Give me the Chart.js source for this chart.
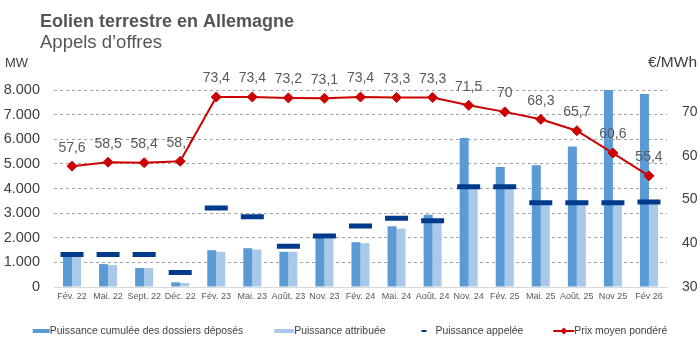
<!DOCTYPE html>
<html lang="fr">
<head>
<meta charset="utf-8">
<title>Eolien terrestre en Allemagne – Appels d’offres</title>
<script src="https://cdn.jsdelivr.net/npm/chart.js@4.4.1/dist/chart.umd.min.js"></script>
<style>
  html, body { margin: 0; padding: 0; background: #ffffff; }
  #wrap { width: 700px; height: 350px; position: relative; }
  canvas { display: block; }
</style>
</head>
<body>
<div id="wrap"><canvas id="c" width="700" height="350"></canvas></div>
<script>
// Rounds of the onshore wind tenders
const categories = ['Fév. 22', 'Mai. 22', 'Sept. 22', 'Déc. 22', 'Fév. 23', 'Mai. 23', 'Août. 23', 'Nov. 23',
  'Fév. 24', 'Mai. 24', 'Août. 24', 'Nov. 24', 'Fév. 25', 'Mai. 25', 'Août. 25', 'Nov 25', 'Fév 26'];

// MW
const puissanceDeposee = [1290, 930, 770, 190, 1495, 1575, 1430, 1995, 1820, 2465, 2935, 6050, 4875, 4940, 5710, 8000, 7840];
const puissanceAttribuee = [1290, 890, 770, 160, 1430, 1520, 1430, 1965, 1780, 2370, 2650, 4040, 4040, 3400, 3400, 3400, 3400];
const puissanceAppelee = [1320, 1320, 1320, 590, 3205, 2855, 1655, 2075, 2480, 2790, 2695, 4070, 4070, 3420, 3420, 3420, 3450];

// €/MWh
const prixMoyen = [57.6, 58.5, 58.4, 58.7, 73.4, 73.4, 73.2, 73.1, 73.4, 73.3, 73.3, 71.5, 70, 68.3, 65.7, 60.6, 55.4];

const mwTicks = [0, 1000, 2000, 3000, 4000, 5000, 6000, 7000, 8000];
const prixTicks = [30, 40, 50, 60, 70];

const legendLabels = ['Puissance cumulée des dossiers déposés', 'Puissance attribuée', 'Puissance appelée', 'Prix moyen pondéré'];

const C_DEPOSEE = '#5b9bd5';
const C_ATTRIB = '#a9c9ea';
const C_APPEL = '#003a8c';
const C_PRIX = '#cc0000';
const C_TEXT = '#595959';

// Use the condensed face when the system has it
function hasFont(name) {
  const ctx = document.createElement('canvas').getContext('2d');
  const s = 'abcdefghijklmnopqrstuvwxyz0123456789ABCDEFGHIJ';
  ctx.font = '40px monospace';
  const a = ctx.measureText(s).width;
  ctx.font = '40px "' + name + '", monospace';
  return ctx.measureText(s).width !== a;
}
const NARROW = hasFont('Liberation Sans Narrow');
const SANS = '"Liberation Sans", Arial, sans-serif';
const NARROW_FAMILY = NARROW ? '"Liberation Sans Narrow", "Liberation Sans", sans-serif' : SANS;
const xTickFont = NARROW ? { family: NARROW_FAMILY, size: 11 } : { family: SANS, size: 9 };
const legendFont = NARROW ? '12.5px ' + NARROW_FAMILY : '10.4px ' + SANS;

const fmtThousands = v => String(v).replace(/\B(?=(\d{3})+(?!\d))/g, '.');
const fmtComma = v => String(v).replace('.', ',');

// Headings, unit labels and legend
const decorations = {
  id: 'decorations',
  beforeDraw(chart) {
    const ctx = chart.ctx;
    ctx.save();
    ctx.fillStyle = '#ffffff';
    ctx.fillRect(0, 0, chart.width, chart.height);
    ctx.restore();
  },
  afterDraw(chart) {
    const ctx = chart.ctx;
    ctx.save();
    ctx.textBaseline = 'alphabetic';
    ctx.textAlign = 'left';
    ctx.fillStyle = '#555555';
    ctx.font = 'bold 18px ' + SANS;
    ctx.fillText('Eolien terrestre en Allemagne', 40, 27);
    ctx.font = '18.5px ' + SANS;
    ctx.fillText('Appels d’offres', 40, 48);

    ctx.fillStyle = '#404040';
    ctx.font = '13px ' + SANS;
    ctx.fillText('MW', 5, 67);
    ctx.textAlign = 'right';
    ctx.font = '15.5px ' + SANS;
    ctx.fillText('€/MWh', 697, 67);

    // legend
    ctx.font = legendFont;
    ctx.textAlign = 'left';
    ctx.textBaseline = 'middle';
    const items = [
      { sym: 17, gap: 0, draw: (x, y) => { ctx.fillStyle = C_DEPOSEE; ctx.fillRect(x, y - 2, 17, 4); } },
      { sym: 20, gap: 0, draw: (x, y) => { ctx.fillStyle = C_ATTRIB; ctx.fillRect(x, y - 2, 20, 4); } },
      { sym: 5, gap: 9, draw: (x, y) => { ctx.fillStyle = C_APPEL; ctx.fillRect(x, y - 1, 5, 2); } },
      { sym: 21, gap: 0, draw: (x, y) => {
          ctx.fillStyle = C_PRIX; ctx.fillRect(x, y - 1, 21, 2);
          ctx.beginPath(); ctx.moveTo(x + 10.5, y - 3.5); ctx.lineTo(x + 14, y); ctx.lineTo(x + 10.5, y + 3.5); ctx.lineTo(x + 7, y); ctx.closePath(); ctx.fill();
        } }
    ];
    const itemGaps = [31, 36, 30];
    const widths = items.map((it, i) => it.sym + it.gap + ctx.measureText(legendLabels[i]).width);
    const total = widths.reduce((a, b) => a + b, 0) + itemGaps.reduce((a, b) => a + b, 0);
    let x = 350 - total / 2;
    const y = 331;
    items.forEach((it, i) => {
      it.draw(x, y);
      ctx.fillStyle = '#404040';
      ctx.fillText(legendLabels[i], x + it.sym + it.gap, y);
      x += widths[i] + (itemGaps[i] || 0);
    });
    ctx.restore();
  }
};

// Price values written above the markers, beneath the red line
const priceLabels = {
  id: 'priceLabels',
  beforeDatasetDraw(chart, args) {
    if (args.index !== 0) return;
    const meta = chart.getDatasetMeta(0);
    const ctx = chart.ctx;
    ctx.save();
    ctx.font = '14px ' + SANS;
    ctx.fillStyle = C_TEXT;
    ctx.textAlign = 'center';
    ctx.textBaseline = 'middle';
    meta.data.forEach((pt, i) => {
      ctx.fillText(fmtComma(prixMoyen[i]), pt.x, pt.y - 18.5);
    });
    ctx.restore();
  }
};

new Chart(document.getElementById('c'), {
  data: {
    labels: categories,
    datasets: [
      {
        type: 'line',
        label: legendLabels[3],
        data: prixMoyen,
        yAxisID: 'y1',
        borderColor: C_PRIX,
        borderWidth: 2,
        backgroundColor: C_PRIX,
        pointStyle: 'rectRot',
        pointRadius: 5,
        pointBackgroundColor: C_PRIX,
        pointBorderColor: C_PRIX,
        pointBorderWidth: 1,
        tension: 0,
        fill: false
      },
      {
        type: 'line',
        label: legendLabels[2],
        data: puissanceAppelee,
        yAxisID: 'y',
        showLine: false,
        pointStyle: 'line',
        pointRadius: 11.5,
        pointBorderWidth: 5,
        pointBorderColor: C_APPEL,
        pointBackgroundColor: C_APPEL
      },
      {
        type: 'bar',
        label: legendLabels[0],
        data: puissanceDeposee,
        yAxisID: 'y',
        backgroundColor: C_DEPOSEE,
        categoryPercentage: 0.5,
        barPercentage: 1.0
      },
      {
        type: 'bar',
        label: legendLabels[1],
        data: puissanceAttribuee,
        yAxisID: 'y',
        backgroundColor: C_ATTRIB,
        categoryPercentage: 0.5,
        barPercentage: 1.0
      }
    ]
  },
  options: {
    responsive: false,
    devicePixelRatio: 1,
    animation: false,
    events: [],
    layout: { padding: { top: 90, bottom: 38, left: 0, right: 0 } },
    plugins: {
      legend: { display: false },
      title: { display: false },
      tooltip: { enabled: false }
    },
    scales: {
      x: {
        type: 'category',
        offset: true,
        grid: { display: false, drawTicks: false },
        border: { display: true, color: '#d9d9d9', width: 1 },
        ticks: { color: C_TEXT, font: xTickFont, padding: 4.5, maxRotation: 0, autoSkip: false },
        afterFit: s => { s.height = 25; }
      },
      y: {
        position: 'left',
        min: 0,
        max: 8000,
        afterBuildTicks: s => { s.ticks = mwTicks.map(v => ({ value: v })); },
        grid: {
          drawTicks: false,
          color: c => (c.tick && c.tick.value === 0) ? 'rgba(0,0,0,0)' : '#a3a3a3',
          lineWidth: 1
        },
        border: { display: false, dash: [3, 3] },
        ticks: { color: '#404040', font: { family: SANS, size: 14.5 }, padding: 14, callback: v => fmtThousands(v) },
        afterFit: s => { s.width = 54; }
      },
      y1: {
        position: 'right',
        min: 30,
        max: 75,
        afterBuildTicks: s => { s.ticks = prixTicks.map(v => ({ value: v })); },
        grid: { display: false, drawTicks: false, drawOnChartArea: false },
        border: { display: false },
        ticks: { color: '#404040', font: { family: SANS, size: 14 }, padding: 15, callback: v => String(v) },
        afterFit: s => { s.width = 33; }
      }
    }
  },
  plugins: [decorations, priceLabels]
});
</script>
</body>
</html>
